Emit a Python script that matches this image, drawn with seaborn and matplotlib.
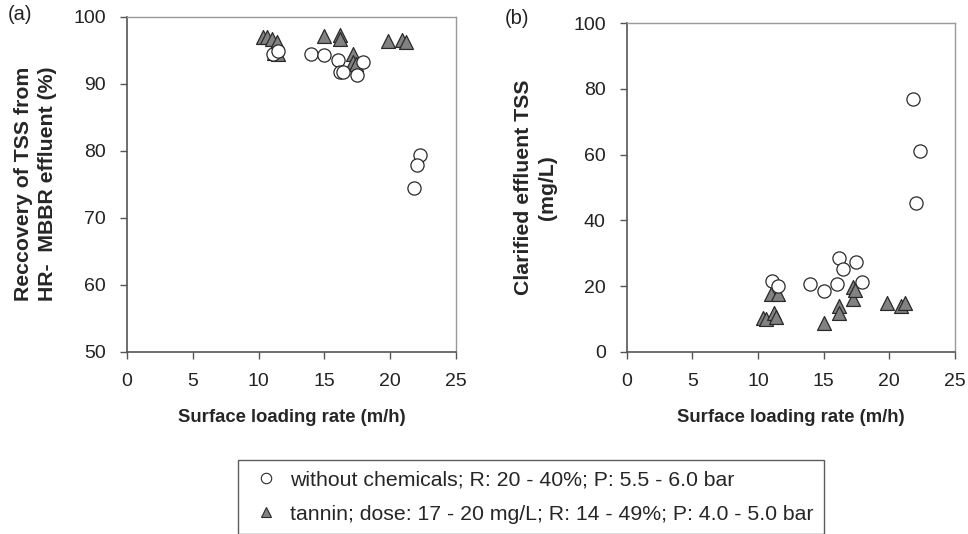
import matplotlib
matplotlib.use('Agg')
import matplotlib.pyplot as plt
from matplotlib.lines import Line2D
import numpy as np
import pandas as pd
import seaborn as sns

# surface loading rate (m/h)
x_plain = [11.1, 11.5, 13.95, 15.0, 16.0, 16.2, 16.45, 17.45, 17.9, 21.8, 22.3, 22.0]
x_tannin = [10.35, 10.6, 11.0, 11.2, 11.4, 11.5, 15.0, 16.2, 16.2, 17.2, 17.2, 17.4, 19.8, 20.9, 21.2]

# (a) recovery of TSS (%)
rec_plain = [94.5, 94.9, 94.4, 94.3, 93.5, 91.7, 91.7, 91.3, 93.2, 74.4, 79.3, 77.8]
rec_tannin = [96.9, 97.0, 96.6, 94.6, 96.3, 94.4, 97.1, 97.2, 96.6, 94.5, 93.3, 93.0, 96.4, 96.5, 96.3]

# (b) clarified effluent TSS (mg/L)
tss_plain = [21.5, 20.0, 20.6, 18.4, 20.6, 28.6, 25.1, 27.4, 21.2, 76.8, 61.2, 45.2]
tss_tannin = [10.2, 10.0, 17.5, 11.7, 10.7, 17.5, 8.6, 13.9, 11.7, 19.8, 16.0, 18.8, 14.7, 13.9, 14.9]

lab_plain = 'without chemicals; R: 20 - 40%; P: 5.5 - 6.0 bar'
lab_tannin = 'tannin; dose: 17 - 20 mg/L; R: 14 - 49%; P: 4.0 - 5.0 bar'

df_a = pd.concat([
    pd.DataFrame({'x': x_tannin, 'y': rec_tannin, 'grp': 'tannin'}),
    pd.DataFrame({'x': x_plain, 'y': rec_plain, 'grp': 'plain'}),
])
df_b = pd.concat([
    pd.DataFrame({'x': x_tannin, 'y': tss_tannin, 'grp': 'tannin'}),
    pd.DataFrame({'x': x_plain, 'y': tss_plain, 'grp': 'plain'}),
])

sns.set_style('white')
plt.rcParams['font.family'] = ['Liberation Sans', 'DejaVu Sans']

fig = plt.figure(figsize=(9.68, 5.34), dpi=100)
ax_a = fig.add_axes([0.1312, 0.3414, 0.3399, 0.6273])
ax_b = fig.add_axes([0.6474, 0.3414, 0.3392, 0.6150])

pal = {'tannin': '#828282', 'plain': 'white'}
mk = {'tannin': '^', 'plain': 'o'}

for ax, df in [(ax_a, df_a), (ax_b, df_b)]:
    for g in ['tannin', 'plain']:
        sub = df[df.grp == g]
        sns.scatterplot(data=sub, x='x', y='y', ax=ax, marker=mk[g], color=pal[g],
                        edgecolor='#2a2a2a', linewidth=0.9, s=100 if g == 'tannin' else 90,
                        legend=False, zorder=3)
    ax.set_xlim(0, 25)
    ax.set_xticks(np.arange(0, 26, 5))
    ax.set_xlabel('Surface loading rate (m/h)', fontsize=13.3, fontweight='bold', labelpad=14)
    ax.tick_params(axis='both', direction='out', length=5, width=1, color='#555555',
                   labelsize=14, labelcolor='#222222', pad=10, bottom=True, left=True)
    for side in ['left', 'bottom']:
        ax.spines[side].set_color('#555555')
        ax.spines[side].set_linewidth(1.2)
    for side in ['top', 'right']:
        ax.spines[side].set_color('#999999')
        ax.spines[side].set_linewidth(1.0)

ax_a.set_ylim(50, 100)
ax_a.set_yticks(np.arange(50, 101, 10))
ax_a.set_ylabel('Reccovery of TSS from\nHR-  MBBR effluent (%)', fontsize=15.3,
                fontweight='bold', labelpad=12, linespacing=1.3)
ax_b.set_ylim(0, 100)
ax_b.set_yticks(np.arange(0, 101, 20))
ax_b.set_ylabel('Clarified effluent TSS\n(mg/L)', fontsize=15.3, fontweight='bold',
                labelpad=12, linespacing=1.3)

fig.text(0.008, 0.972, '(a)', fontsize=14.5, va='center', color='#222222')
fig.text(0.521, 0.966, '(b)', fontsize=14.5, va='center', color='#222222')

handles = [
    Line2D([], [], marker='o', linestyle='none', markerfacecolor='white',
           markeredgecolor='#2a2a2a', markersize=7.5, markeredgewidth=0.8, label=lab_plain),
    Line2D([], [], marker='^', linestyle='none', markerfacecolor='#828282',
           markeredgecolor='#2a2a2a', markersize=7.5, markeredgewidth=0.8, label=lab_tannin),
]
leg = fig.legend(handles=handles, loc='upper left',
                 bbox_to_anchor=(238 / 968, 1 - 460 / 534), bbox_transform=fig.transFigure,
                 frameon=True, fancybox=False, fontsize=15.3, handletextpad=0.31,
                 handlelength=1.64, labelspacing=0.7, borderpad=0.5, borderaxespad=0,
                 edgecolor='#333333')
leg.get_frame().set_linewidth(1.0)

fig.savefig('out.png', dpi=100)
